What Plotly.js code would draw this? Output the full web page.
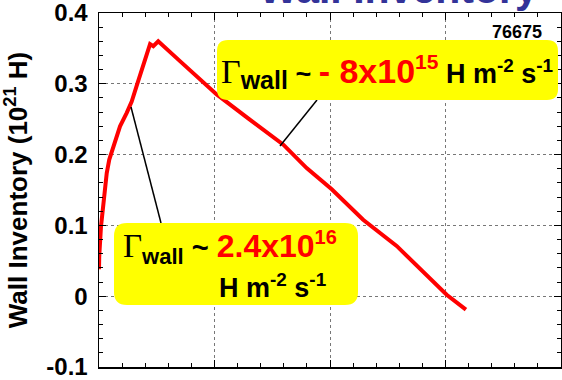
<!DOCTYPE html>
<html>
<head>
<meta charset="utf-8">
<script src="https://cdn.plot.ly/plotly-3.0.1.min.js"></script>
<style>html,body{margin:0;padding:0;background:#fff;}#chart{width:562px;height:380px;}</style>
</head>
<body>
<div id="chart"></div>
<script>
// ---- data ----
const timeX = [0, 0.002, 0.017, 0.037, 0.067, 0.089, 0.124, 0.182, 0.240, 0.283, 0.326, 0.384, 0.442, 0.470, 0.513, 0.701, 1.019, 1.30, 1.596, 1.798, 2.015, 2.287, 2.577, 3.010, 3.177];
const wallInventory = [0.038, 0.056, 0.098, 0.127, 0.174, 0.193, 0.212, 0.240, 0.259, 0.275, 0.297, 0.325, 0.356, 0.353, 0.360, 0.332, 0.285, 0.250, 0.214, 0.181, 0.151, 0.108, 0.071, 0.002, -0.019];
const yTickVals = [-0.1, 0, 0.1, 0.2, 0.3, 0.4];
const yTickText = ["-0.1", "0", "0.1", "0.2", "0.3", "0.4"];
const shotNumber = "76675";

// ---- layout helpers (pixel -> paper) ----
const W = 562, H = 380, ML = 99, MR = 1, MT = 13, MB = 13;
const PW = W - ML - MR, PH = H - MT - MB;
const px = v => (v - ML) / PW;
const py = v => (H - MB - v) / PH;
function roundRect(x0, y0, x1, y1, r) {
  const X = px, Y = py;
  return `M${X(x0 + r)},${Y(y0)} L${X(x1 - r)},${Y(y0)} Q${X(x1)},${Y(y0)} ${X(x1)},${Y(y0 + r)} ` +
    `L${X(x1)},${Y(y1 - r)} Q${X(x1)},${Y(y1)} ${X(x1 - r)},${Y(y1)} ` +
    `L${X(x0 + r)},${Y(y1)} Q${X(x0)},${Y(y1)} ${X(x0)},${Y(y1 - r)} ` +
    `L${X(x0)},${Y(y0 + r)} Q${X(x0)},${Y(y0)} ${X(x0 + r)},${Y(y0)} Z`;
}

const SANS = 'Liberation Sans, Arial, sans-serif';
const gamma = sz => `<span style="font-family:Liberation Serif,serif;font-weight:normal;font-size:${sz}px">Γ</span>`;

const trace = {
  x: timeX, y: wallInventory, type: 'scatter', mode: 'lines',
  line: {color: '#ff0000', width: 4}, hoverinfo: 'skip'
};

const layout = {
  width: W, height: H,
  margin: {l: ML, r: MR, t: MT, b: MB, pad: 0},
  paper_bgcolor: '#ffffff', plot_bgcolor: '#ffffff',
  showlegend: false,
  font: {family: SANS, color: '#000', size: 20, weight: 'bold'},
  xaxis: {
    range: [0, 4], dtick: 1, tick0: 0,
    showgrid: true, gridcolor: '#777', griddash: 'dot', gridwidth: 1,
    zeroline: false, showline: true, linecolor: '#000', linewidth: 1.5, mirror: 'ticks',
    ticks: 'inside', ticklen: 7, tickcolor: '#000', tickwidth: 1,
    minor: {dtick: 0.2, ticks: 'inside', ticklen: 4, tickcolor: '#000', showgrid: false},
    showticklabels: false, fixedrange: true
  },
  yaxis: {
    range: [-0.1, 0.4], tickmode: 'array', tickvals: yTickVals, ticktext: yTickText,
    showgrid: true, gridcolor: '#777', griddash: 'dot', gridwidth: 1,
    zeroline: false, showline: true, linecolor: '#000', linewidth: 1.5, mirror: 'ticks',
    ticks: 'inside', ticklen: 7, tickcolor: '#000', tickwidth: 1,
    minor: {dtick: 0.02, ticks: 'inside', ticklen: 4, tickcolor: '#000', showgrid: false},
    tickfont: {family: SANS, size: 24, weight: 'bold', color: '#000'},
    ticklabelstandoff: 5, ticklabeloverflow: 'allow',
    title: {text: 'Wall Inventory (10<sup>21</sup> H)', font: {family: SANS, size: 26, weight: 'bold', color: '#000'}, standoff: 17},
    automargin: false, fixedrange: true
  },
  shapes: [
    {type: 'line', xref: 'paper', yref: 'paper', x0: px(131), y0: py(107), x1: px(161), y1: py(223), line: {color: '#000', width: 1.5}},
    {type: 'line', xref: 'paper', yref: 'paper', x0: px(317), y0: py(100), x1: px(280), y1: py(146), line: {color: '#000', width: 1.5}},
    {type: 'path', xref: 'paper', yref: 'paper', path: roundRect(217, 40, 558, 100, 11), fillcolor: '#ffff00', line: {width: 0}, layer: 'above'},
    {type: 'path', xref: 'paper', yref: 'paper', path: roundRect(114, 223, 358, 305, 13), fillcolor: '#ffff00', line: {width: 0}, layer: 'above'}
  ],
  annotations: [
    {xref: 'paper', yref: 'paper', x: px(540), y: py(-11), xanchor: 'right', yanchor: 'middle', showarrow: false,
      text: 'Wall Inventory', font: {family: SANS, size: 41, weight: 'bold', color: '#333399'}},
    {xref: 'paper', yref: 'paper', x: px(544), y: py(32), xanchor: 'right', yanchor: 'middle', showarrow: false,
      text: shotNumber, font: {family: SANS, size: 18, weight: 'bold', color: '#000'}},
    {xref: 'paper', yref: 'paper', x: px(219), y: py(72), xanchor: 'left', yanchor: 'middle', showarrow: false,
      text: gamma(34) + '<sub><span style="font-size:25px">wall</span></sub> ~ <span style="color:#ff0000;font-size:34px">- 8x10<sup><span style="font-size:21px">15</span></sup></span> H m<sup>-2</sup> s<sup>-1</sup>',
      font: {family: SANS, size: 27, weight: 'bold', color: '#000'}},
    {xref: 'paper', yref: 'paper', x: px(121), y: py(248), xanchor: 'left', yanchor: 'middle', showarrow: false,
      text: gamma(33) + '<sub><span style="font-size:22px">wall</span></sub> ~ <span style="color:#ff0000;font-size:32px">2.4x10<sup><span style="font-size:20px">16</span></sup></span>',
      font: {family: SANS, size: 29, weight: 'bold', color: '#000'}},
    {xref: 'paper', yref: 'paper', x: px(217), y: py(286), xanchor: 'left', yanchor: 'middle', showarrow: false,
      text: 'H m<sup>-2</sup> s<sup>-1</sup>',
      font: {family: SANS, size: 27, weight: 'bold', color: '#000'}}
  ]
};

Plotly.newPlot('chart', [trace], layout, {staticPlot: true, displayModeBar: false});
</script>
</body>
</html>
